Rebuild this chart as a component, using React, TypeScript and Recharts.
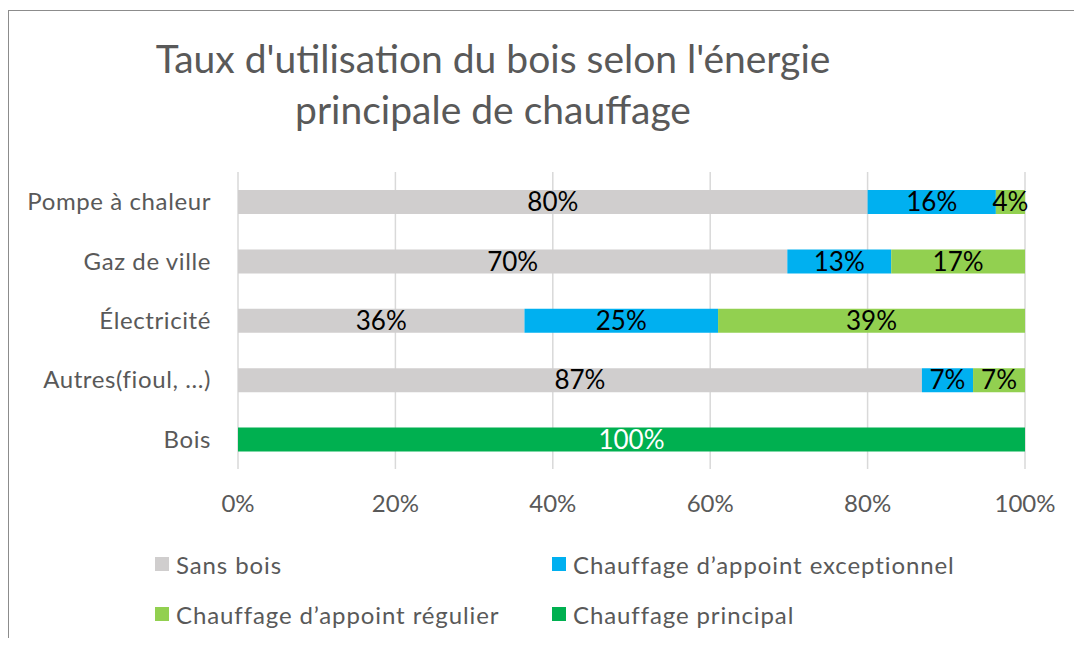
import { BarChart, Bar, XAxis, YAxis, CartesianGrid, LabelList } from "recharts";

const categories = ["Pompe à chaleur", "Gaz de ville", "Électricité", "Autres(fioul, ...)", "Bois"];
const sansBois = [80, 69.8, 36.4, 86.9, 0];
const appointExceptionnel = [16.3, 13.2, 24.6, 6.5, 0];
const appointRegulier = [3.7, 17, 39, 6.6, 0];
const chauffagePrincipal = [0, 0, 0, 0, 100];
const xTicks = [0, 20, 40, 60, 80, 100];

const SERIES = [
  { key: "sansBois", name: "Sans bois", color: "#d0cece", label: "#000000" },
  { key: "exceptionnel", name: "Chauffage d’appoint exceptionnel", color: "#00b0f0", label: "#000000" },
  { key: "regulier", name: "Chauffage d’appoint régulier", color: "#92d050", label: "#000000" },
  { key: "principal", name: "Chauffage principal", color: "#00b050", label: "#ffffff" },
];

const data = categories.map((name, i) => ({
  name,
  sansBois: sansBois[i],
  exceptionnel: appointExceptionnel[i],
  regulier: appointRegulier[i],
  principal: chauffagePrincipal[i],
}));

const FONT = "Lato, 'Open Sans', sans-serif";
const TEXT_GREY = "#595959";

const pct = (v: any) => (Number(v) > 0 ? `${Math.round(Number(v))}%` : "");

// legend placement, in px inside the frame
const LEGEND_POS = [
  { left: 146, top: 538 },
  { left: 543, top: 538 },
  { left: 146, top: 588 },
  { left: 543, top: 588 },
];

export default function App() {
  return (
    <div
      style={{
        position: "relative",
        top: 2,
        width: 1073,
        height: 629,
        borderTop: "1px solid #8c8c8c",
        borderLeft: "1px solid #8c8c8c",
        background: "#fff",
        fontFamily: FONT,
      }}
    >
      <div
        style={{
          position: "absolute",
          left: 0,
          top: 22,
          width: 968,
          textAlign: "center",
          fontSize: 39,
          lineHeight: "51px",
          color: TEXT_GREY,
        }}
      >
        Taux d'utilisation du bois selon l'énergie
        <br />
        principale de chauffage
      </div>

      <div style={{ position: "absolute", left: 0, top: 0 }}>
        <BarChart
          width={1073}
          height={629}
          data={data}
          layout="vertical"
          margin={{ top: 161, right: 57, bottom: 121, left: 0 }}
          barCategoryGap={0}
          style={{ fontFamily: FONT }}
        >
          <CartesianGrid horizontal={false} stroke="#d9d9d9" strokeWidth={1.5} />
          <XAxis
            type="number"
            domain={[0, 100]}
            ticks={xTicks}
            tickFormatter={(v) => `${v}%`}
            axisLine={false}
            tickLine={false}
            tickSize={0}
            tickMargin={26}
            height={50}
            tick={{ fill: TEXT_GREY, fontSize: 24, fontFamily: FONT }}
          />
          <YAxis
            type="category"
            dataKey="name"
            width={229}
            axisLine={false}
            tickLine={false}
            tickSize={0}
            tickMargin={27}
            tick={{ fill: TEXT_GREY, fontSize: 24, fontFamily: FONT, letterSpacing: 0.6 }}
          />
          {SERIES.map((s) => (
            <Bar
              key={s.key}
              dataKey={s.key}
              name={s.name}
              stackId="a"
              fill={s.color}
              barSize={24}
              isAnimationActive={false}
            >
              <LabelList
                dataKey={s.key}
                position="center"
                formatter={pct}
                fill={s.label}
                fontSize={26}
                fontFamily={FONT}
              />
            </Bar>
          ))}
        </BarChart>
      </div>

      {SERIES.map((s, i) => (
        <div
          key={s.key}
          style={{
            position: "absolute",
            left: LEGEND_POS[i].left,
            top: LEGEND_POS[i].top,
            display: "flex",
            alignItems: "center",
            height: 30,
            fontSize: 24,
            color: TEXT_GREY,
            letterSpacing: 0.9,
            whiteSpace: "nowrap",
          }}
        >
          <span style={{ width: 14, height: 14, background: s.color, marginRight: 7, display: "inline-block", flexShrink: 0 }} />
          {s.name}
        </div>
      ))}
    </div>
  );
}
